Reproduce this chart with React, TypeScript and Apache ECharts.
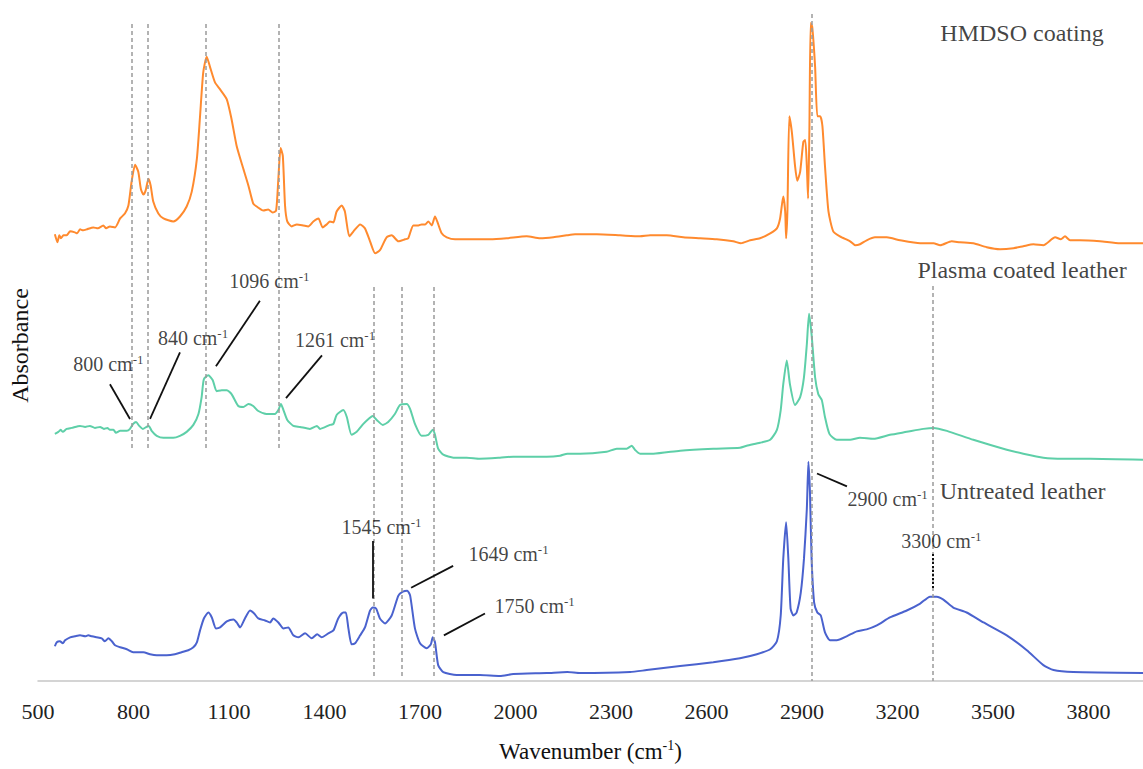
import React, { useEffect, useRef } from "react";
import * as echarts from "echarts";

// Wavenumber (cm-1) / absorbance (offset, arbitrary units) pairs
const hmdsoCoating: [number, number][] = [
  [553, 45.0], [561, 44.2], [567, 44.9], [572, 44.6], [580, 44.9], [590, 44.9], [601, 45.3], [616, 45.2],
  [623, 45.1], [632, 45.5], [642, 45.4], [653, 45.5], [674, 45.7], [688, 45.6], [705, 45.9], [714, 45.6],
  [726, 45.8], [742, 45.7], [758, 46.6], [773, 47.1], [784, 47.9], [794, 50.3], [805, 52.0], [815, 51.3],
  [823, 49.6], [831, 49.0], [838, 49.4], [847, 50.6], [854, 49.9], [862, 48.3], [878, 47.1], [894, 46.6],
  [925, 46.3], [946, 46.8], [967, 47.8], [983, 49.3], [999, 52.6], [1009, 56.9], [1019, 61.3], [1030, 62.9],
  [1040, 61.9], [1056, 60.3], [1072, 59.6], [1093, 58.6], [1108, 56.6], [1124, 53.9], [1145, 51.6], [1161, 49.9],
  [1176, 48.1], [1187, 47.8], [1208, 47.4], [1223, 47.5], [1237, 47.2], [1248, 47.4], [1255, 50.6], [1262, 53.7],
  [1269, 52.9], [1276, 47.9], [1283, 46.3], [1297, 45.8], [1313, 46.0], [1333, 45.9], [1349, 45.8], [1365, 46.3],
  [1381, 46.6], [1394, 45.7], [1407, 46.0], [1417, 46.3], [1428, 46.2], [1438, 47.3], [1454, 47.9], [1464, 47.3],
  [1478, 44.8], [1491, 45.3], [1512, 46.0], [1527, 45.6], [1543, 44.3], [1559, 43.1], [1574, 43.4], [1595, 44.7],
  [1611, 44.9], [1632, 44.3], [1653, 44.5], [1663, 44.6], [1679, 45.9], [1695, 45.9], [1705, 46.0], [1716, 46.0],
  [1726, 46.3], [1737, 45.9], [1747, 46.8], [1754, 46.3], [1768, 45.1], [1784, 44.7], [1810, 44.5], [1847, 44.5],
  [1920, 44.5], [1972, 44.6], [2035, 44.8], [2077, 44.6], [2119, 44.7], [2161, 44.9], [2187, 45.0], [2255, 45.0],
  [2328, 44.9], [2391, 44.8], [2423, 44.9], [2475, 44.9], [2527, 44.7], [2580, 44.6], [2632, 44.5], [2684, 44.3],
  [2708, 44.1], [2737, 44.4], [2768, 44.6], [2800, 45.1], [2821, 45.6], [2831, 46.6], [2841, 48.8], [2847, 47.3],
  [2850, 44.6], [2854, 47.3], [2860, 56.9], [2868, 55.3], [2878, 51.9], [2885, 50.4], [2894, 51.3], [2904, 54.3],
  [2910, 54.5], [2915, 51.9], [2919, 48.6], [2923, 55.3], [2927, 66.3], [2932, 65.9], [2941, 61.9], [2948, 56.9],
  [2957, 56.9], [2964, 55.9], [2972, 51.9], [2983, 47.3], [2998, 45.3], [3019, 44.8], [3051, 44.3], [3067, 43.9],
  [3082, 44.0], [3103, 44.4], [3129, 44.7], [3166, 44.7], [3208, 44.4], [3271, 44.1], [3313, 44.1], [3334, 43.9],
  [3370, 44.3], [3396, 44.2], [3438, 44.1], [3480, 43.7], [3522, 43.5], [3564, 43.6], [3595, 43.8], [3627, 44.0],
  [3658, 43.9], [3695, 44.7], [3713, 44.5], [3726, 44.8], [3742, 44.4], [3773, 44.4], [3836, 44.3], [3899, 44.1],
  [3971, 44.1],
];

const plasmaCoatedLeather: [number, number][] = [
  [553, 24.9], [564, 25.1], [571, 25.3], [578, 25.1], [590, 25.4], [606, 25.5], [632, 25.7], [648, 25.6],
  [663, 25.7], [679, 25.5], [695, 25.6], [707, 25.4], [718, 25.5], [726, 25.3], [737, 25.3], [745, 25.0],
  [758, 25.2], [779, 25.2], [789, 25.4], [799, 25.9], [808, 26.1], [818, 25.7], [829, 25.4], [841, 25.6],
  [848, 25.7], [857, 25.2], [873, 24.7], [894, 24.5], [925, 24.5], [946, 24.7], [967, 25.1], [988, 25.8],
  [1004, 26.9], [1014, 28.6], [1021, 30.4], [1035, 30.8], [1049, 30.3], [1061, 29.2], [1077, 29.3], [1093, 29.3],
  [1108, 28.9], [1129, 27.7], [1145, 27.6], [1161, 27.9], [1176, 27.7], [1192, 27.2], [1218, 26.9], [1244, 26.9],
  [1255, 27.3], [1263, 27.9], [1271, 27.3], [1283, 26.3], [1302, 25.7], [1323, 25.6], [1354, 25.4], [1376, 25.7],
  [1386, 25.4], [1417, 25.8], [1428, 25.9], [1438, 26.8], [1459, 27.3], [1470, 26.6], [1485, 24.8], [1501, 25.1],
  [1522, 25.9], [1538, 26.4], [1551, 26.7], [1564, 26.3], [1583, 25.8], [1600, 26.1], [1621, 26.9], [1637, 27.8],
  [1658, 27.9], [1669, 27.4], [1684, 25.9], [1705, 24.7], [1726, 24.8], [1740, 25.3], [1747, 24.8], [1757, 23.4],
  [1773, 22.8], [1805, 22.5], [1847, 22.5], [1888, 22.4], [1951, 22.5], [1993, 22.6], [2098, 22.6], [2140, 22.7],
  [2163, 22.9], [2203, 22.9], [2286, 23.1], [2318, 23.4], [2349, 23.4], [2365, 23.7], [2375, 23.3], [2391, 22.9],
  [2433, 22.9], [2517, 23.2], [2621, 23.4], [2705, 23.5], [2726, 23.7], [2768, 24.0], [2800, 24.3], [2821, 25.3],
  [2833, 27.3], [2841, 29.9], [2852, 32.3], [2862, 29.9], [2878, 27.8], [2894, 28.6], [2906, 30.6], [2915, 33.9],
  [2922, 37.0], [2930, 34.9], [2941, 30.6], [2951, 28.9], [2962, 28.3], [2972, 26.6], [2986, 24.9], [3009, 24.3],
  [3051, 24.3], [3082, 24.5], [3124, 24.4], [3176, 24.8], [3229, 25.1], [3281, 25.4], [3313, 25.5], [3355, 25.2],
  [3438, 24.3], [3543, 23.3], [3595, 22.9], [3658, 22.5], [3721, 22.4], [3805, 22.4], [3971, 22.3],
];

const untreatedLeather: [number, number][] = [
  [553, 3.5], [559, 3.9], [569, 4.0], [578, 3.8], [585, 4.1], [601, 4.4], [616, 4.5], [632, 4.6],
  [648, 4.5], [658, 4.6], [669, 4.5], [684, 4.4], [700, 4.3], [710, 4.0], [721, 4.3], [732, 4.0],
  [742, 3.6], [758, 3.4], [779, 3.2], [799, 2.9], [831, 2.9], [852, 2.7], [873, 2.6], [904, 2.6],
  [930, 2.7], [951, 2.9], [972, 3.1], [988, 3.4], [999, 3.9], [1009, 5.1], [1021, 6.3], [1035, 6.9],
  [1046, 6.4], [1059, 5.3], [1072, 5.4], [1093, 6.0], [1114, 6.2], [1124, 5.9], [1135, 5.4], [1150, 6.3],
  [1166, 7.1], [1179, 6.8], [1192, 6.3], [1213, 6.1], [1229, 5.9], [1239, 6.3], [1255, 5.9], [1271, 5.3],
  [1286, 5.4], [1302, 4.6], [1318, 4.4], [1339, 4.8], [1360, 4.3], [1377, 4.7], [1391, 4.4], [1412, 4.8],
  [1428, 5.1], [1443, 6.3], [1459, 6.9], [1467, 6.9], [1475, 5.3], [1485, 3.7], [1496, 3.8], [1512, 4.6],
  [1527, 5.4], [1543, 7.1], [1551, 7.4], [1562, 7.3], [1574, 6.3], [1590, 5.8], [1611, 6.6], [1632, 8.6],
  [1646, 9.0], [1660, 9.1], [1669, 8.6], [1684, 5.3], [1700, 3.8], [1721, 3.3], [1734, 3.7], [1740, 4.4],
  [1747, 3.9], [1757, 1.6], [1773, 0.9], [1815, 0.6], [1888, 0.6], [1951, 0.5], [1993, 0.7], [2098, 0.8],
  [2163, 0.9], [2203, 0.8], [2360, 0.9], [2412, 1.1], [2517, 1.5], [2621, 1.9], [2705, 2.3], [2758, 2.7],
  [2800, 3.2], [2821, 4.0], [2833, 6.6], [2841, 12.3], [2850, 16.0], [2857, 12.3], [2864, 7.3], [2873, 6.6],
  [2883, 6.9], [2896, 8.9], [2906, 12.3], [2915, 17.3], [2920, 22.1], [2925, 18.9], [2930, 12.3], [2938, 7.9],
  [2948, 6.9], [2959, 6.6], [2972, 4.9], [2988, 4.1], [3009, 4.1], [3040, 4.5], [3072, 5.0], [3103, 5.2],
  [3135, 5.6], [3176, 6.4], [3229, 7.1], [3271, 7.8], [3302, 8.5], [3323, 8.5], [3344, 8.2], [3375, 7.4],
  [3417, 6.9], [3470, 5.9], [3543, 4.6], [3606, 3.1], [3658, 1.6], [3690, 1.1], [3752, 0.9], [3971, 0.8],
];

// Dashed guide lines: [wavenumber, top, bottom]
const guideLines: [number, number, number][] = [
  [794, 66.2, 23.4], [846, 66.2, 23.4], [1028, 66.2, 23.4], [1255, 66.2, 23.4],
  [1555, 39.7, 0.4], [1642, 39.7, 0.4], [1742, 39.7, 0.4], [2930, 67.2, 0], [3312, 39.8, 0],
];

// Peak annotations: label, label anchor [wn, y], leader from [wn, y] to [wn, y]
const peakNames = ["800", "840", "1096", "1261", "1545", "1649", "1750", "2900", "3300"];
const peakLabelPos: [number, number][] = [
  [721, 31.9], [987, 34.6], [1227, 40.3], [1433, 34.4], [1579, 15.5], [1978, 12.8], [2060, 7.6], [3169, 18.3], [3338, 14.1],
];
const peakLeaders: [[number, number], [number, number]][] = [
  [[726, 29.9], [789, 26.4]], [[946, 33.1], [852, 26.4]], [[1197, 38.3], [1059, 31.7]], [[1392, 32.8], [1279, 28.5]],
  [[1552, 14.1], [1552, 8.3]], [[1804, 11.6], [1672, 9.4]], [[1904, 6.8], [1775, 4.6]], [[2947, 20.9], [3041, 19.6]],
  [[3312, 12.8], [3312, 9.3]],
];

const seriesNames = ["HMDSO coating", "Plasma coated leather", "Untreated leather"];
const seriesNamePos: [number, number][] = [[3591, 65.3], [3591, 41.4], [3593, 19.1]];

const xTickMin = 500;
const xTickStep = 300;

const FONT = "'Liberation Serif', 'Times New Roman', serif";

export default function App() {
  const ref = useRef<HTMLDivElement>(null);

  useEffect(() => {
    if (!ref.current) return;
    const chart = echarts.init(ref.current, undefined, { renderer: "svg" });

    const lineSeries = (name: string, data: [number, number][], color: string, extra: any = {}) => ({
      name,
      type: "line",
      data,
      showSymbol: false,
      symbol: "none",
      smooth: 0.2,
      lineStyle: { color, width: 2 },
      itemStyle: { color },
      silent: true,
      z: 3,
      ...extra,
    });

    const guideMark = {
      silent: true,
      symbol: ["none", "none"],
      label: { show: false },
      lineStyle: { color: "#9a9a9a", width: 1.5, type: [4, 3] },
      data: guideLines.map(([wn, a, b]) => [{ coord: [wn, a] }, { coord: [wn, b] }]),
    };

    const leaderMark = {
      silent: true,
      symbol: ["none", "none"],
      label: { show: false },
      lineStyle: { color: "#111", width: 1.8, type: "solid" },
      data: peakLeaders.map((seg, i) => [
        { coord: seg[0], lineStyle: i === 8 ? { type: "dotted", width: 2, color: "#111" } : undefined },
        { coord: seg[1] },
      ]),
    };

    chart.setOption({
      animation: false,
      backgroundColor: "#ffffff",
      textStyle: { fontFamily: FONT },
      grid: { left: 38, right: 0, top: 10, bottom: 83 },
      xAxis: {
        type: "value",
        min: xTickMin,
        max: 3971,
        interval: xTickStep,
        name: "Wavenumber (cm{sup|-1})",
        nameLocation: "middle",
        nameGap: 57,
        nameTextStyle: {
          fontFamily: FONT,
          fontSize: 23,
          color: "#111",
          lineHeight: 26,
          rich: { sup: { fontFamily: FONT, fontSize: 14, verticalAlign: "top", color: "#111", lineHeight: 26 } },
        },
        axisLine: { show: true, lineStyle: { color: "#c6c6c6", width: 1.5 } },
        axisTick: { show: false },
        splitLine: { show: false },
        axisLabel: {
          fontFamily: FONT,
          fontSize: 22,
          color: "#222",
          margin: 19,
          showMaxLabel: false,
          formatter: (v: number) => String(Math.round(v)),
        },
      },
      yAxis: {
        type: "value",
        min: 0,
        max: 67.6,
        name: "Absorbance",
        nameLocation: "middle",
        nameRotate: 90,
        nameGap: 6,
        nameTextStyle: { fontFamily: FONT, fontSize: 24, color: "#111" },
        axisLine: { show: false },
        axisTick: { show: false },
        axisLabel: { show: false },
        splitLine: { show: false },
      },
      series: [
        lineSeries("HMDSO coating", hmdsoCoating, "#FF8A2E", { markLine: guideMark }),
        lineSeries("Plasma coated leather", plasmaCoatedLeather, "#5ECFA8"),
        lineSeries("Untreated leather", untreatedLeather, "#4A62CE", { markLine: leaderMark }),
        {
          type: "scatter",
          silent: true,
          symbolSize: 0,
          itemStyle: { color: "rgba(0,0,0,0)" },
          data: peakNames.map((n, i) => ({ value: peakLabelPos[i], name: n })),
          label: {
            show: true,
            position: "inside",
            formatter: (p: any) => `${p.name} cm{sup|-1}`,
            fontFamily: FONT,
            fontSize: 20,
            color: "#111",
            lineHeight: 22,
            rich: { sup: { fontFamily: FONT, fontSize: 13, verticalAlign: "top", color: "#111", lineHeight: 22 } },
          },
          z: 5,
        },
        {
          type: "scatter",
          silent: true,
          symbolSize: 0,
          itemStyle: { color: "rgba(0,0,0,0)" },
          data: seriesNames.map((n, i) => ({ value: seriesNamePos[i], name: n })),
          label: {
            show: true,
            position: "inside",
            formatter: "{b}",
            fontFamily: FONT,
            fontSize: 24,
            color: "#111",
          },
          z: 5,
        },
      ],
    });

    return () => chart.dispose();
  }, []);

  return (
    <div
      ref={ref}
      style={{ position: "fixed", left: 0, top: 0, width: 1143, height: 769, background: "#fff" }}
    />
  );
}
